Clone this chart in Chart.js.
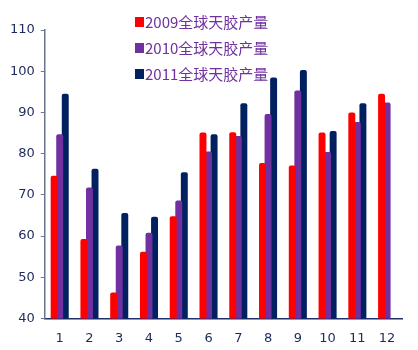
<!DOCTYPE html>
<html>
<head>
<meta charset="utf-8">
<script src="https://cdn.jsdelivr.net/npm/chart.js@4"></script>
<style>
  html, body { margin: 0; padding: 0; background: #fff; }
  #wrap { width: 418px; height: 350px; }
</style>
</head>
<body>
<div id="wrap"><canvas id="myChart" width="418" height="350"></canvas></div>
<script>
const months = ['1', '2', '3', '4', '5', '6', '7', '8', '9', '10', '11', '12'];
const labels = ['2009全球天胶产量', '2010全球天胶产量', '2011全球天胶产量'];
const output2009 = [74.6, 59.3, 46.3, 56.2, 64.8, 85.1, 85.2, 77.7, 77.1, 85.1, 90.0, 94.5];
const output2010 = [84.7, 71.8, 57.7, 60.8, 68.6, 80.5, 84.3, 89.6, 95.3, 80.4, 87.7, 92.4];
const output2011 = [94.5, 76.3, 65.6, 64.7, 75.5, 84.7, 92.2, 98.5, 100.3, 85.5, 92.2, null];
const yTicks = [40, 50, 60, 70, 80, 90, 100, 110];

const colors = ['#ff0000', '#7030a0', '#002060'];
const tickColor = '#1c2a5c';

// legend drawn inside the plot, like the excel original
const insideLegend = {
  id: 'insideLegend',
  afterDraw(chart) {
    const ctx = chart.ctx;
    ctx.save();
    ctx.font = '15px "Noto Sans CJK SC", sans-serif';
    ctx.textBaseline = 'middle';
    chart.data.datasets.forEach((ds, i) => {
      const y = 22 + i * 26;
      ctx.fillStyle = ds.backgroundColor;
      ctx.fillRect(135, y - 5, 9, 10);
      ctx.fillStyle = '#7030a0';
      ctx.fillText(ds.label, 145, y);
    });
    ctx.restore();
  }
};

const ctx = document.getElementById('myChart').getContext('2d');
new Chart(ctx, {
  type: 'bar',
  data: {
    labels: months,
    datasets: [output2009, output2010, output2011].map((d, i) => ({
      label: labels[i],
      data: d,
      backgroundColor: colors[i],
      borderRadius: { topLeft: 2, topRight: 2 },
      borderSkipped: 'bottom',
      categoryPercentage: 0.56,
      barPercentage: 1.25
    }))
  },
  options: {
    responsive: false,
    animation: false,
    layout: { padding: { top: 30, right: 16, bottom: 0, left: 4 } },
    plugins: {
      legend: { display: false },
      tooltip: { enabled: false }
    },
    scales: {
      x: {
        grid: { display: false },
        border: { display: true, color: '#1f2f6e', width: 1.5 },
        ticks: { color: tickColor, font: { family: 'DejaVu Sans', size: 13 }, padding: 4 }
      },
      y: {
        min: 40,
        max: 110,
        afterBuildTicks: (axis) => { axis.ticks = yTicks.map(v => ({ value: v })); },
        grid: { drawOnChartArea: false, drawTicks: true, tickLength: 4, color: '#6a7590' },
        border: { display: true, color: '#6a7590', width: 1.5 },
        ticks: { color: tickColor, font: { family: 'DejaVu Sans', size: 13 }, padding: 6 }
      }
    }
  },
  plugins: [insideLegend]
});
</script>
</body>
</html>
